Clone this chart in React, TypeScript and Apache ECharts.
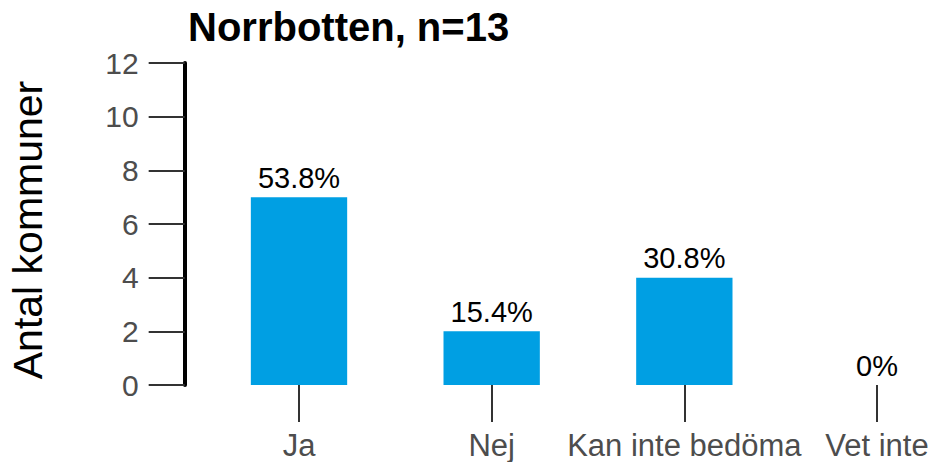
import React, { useEffect, useRef } from "react";
import * as echarts from "echarts";

const categories = ["Ja", "Nej", "Kan inte bedöma", "Vet inte"];
const counts = [7, 2, 4, 0];
const percentLabels = ["53.8%", "15.4%", "30.8%", "0%"];
const yTicks = { min: 0, max: 12, interval: 2 };

const FONT = "'Liberation Sans', Arial, sans-serif";

export default function App() {
  const ref = useRef<HTMLDivElement>(null);
  useEffect(() => {
    if (!ref.current) return;
    const chart = echarts.init(ref.current, undefined, { renderer: "svg" });
    chart.setOption({
      animation: false,
      backgroundColor: "#ffffff",
      title: {
        text: "Norrbotten, n=13",
        left: 183,
        top: 2,
        textStyle: { fontFamily: FONT, fontSize: 40, fontWeight: "bold", color: "#000" },
      },
      grid: {
        left: 202.67,
        top: 63,
        height: 322,
        width: 770.67,
        containLabel: false,
        outerBoundsMode: "none",
      },
      xAxis: {
        type: "category",
        data: categories,
        axisLine: { show: false },
        axisTick: { show: true, alignWithLabel: true, length: 37, lineStyle: { color: "#333", width: 2 } },
        axisLabel: { interval: 0, fontFamily: FONT, fontSize: 31, color: "#4d4d4d", margin: 45 },
        splitLine: { show: false },
      },
      yAxis: {
        type: "value",
        min: yTicks.min,
        max: yTicks.max,
        interval: yTicks.interval,
        offset: 18,
        name: "Antal kommuner",
        nameLocation: "middle",
        nameRotate: 90,
        nameGap: 136,
        nameTextStyle: { fontFamily: FONT, fontSize: 41, color: "#000", padding: [0, 12, 0, 0] },
        axisLine: { show: true, lineStyle: { color: "#000", width: 4 } },
        axisTick: { show: true, length: 36, lineStyle: { color: "#333", width: 2 } },
        axisLabel: { fontFamily: FONT, fontSize: 30, color: "#4d4d4d", margin: 46 },
        splitLine: { show: false },
      },
      series: [
        {
          type: "bar",
          data: counts,
          barWidth: "50%",
          itemStyle: { color: "#009fe3" },
          label: {
            show: true,
            position: "top",
            distance: 5,
            fontFamily: FONT,
            fontSize: 29,
            color: "#000",
            formatter: (p: any) => percentLabels[p.dataIndex],
          },
        },
      ],
    });
    return () => chart.dispose();
  }, []);
  return (
    <div
      ref={ref}
      style={{ position: "fixed", left: 0, top: 0, width: 936, height: 462 }}
    />
  );
}
